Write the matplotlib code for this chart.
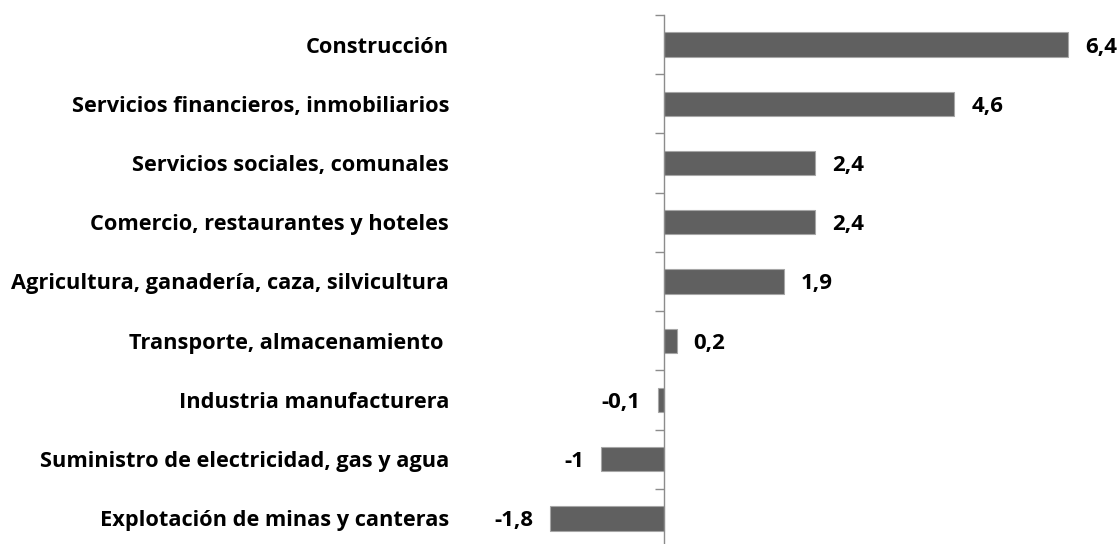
import matplotlib
matplotlib.use("Agg")
import matplotlib.pyplot as plt
import numpy as np

# sectors, top to bottom
sectors = [
    "Construcción",
    "Servicios financieros, inmobiliarios",
    "Servicios sociales, comunales",
    "Comercio, restaurantes y hoteles",
    "Agricultura, ganadería, caza, silvicultura",
    "Transporte, almacenamiento ",
    "Industria manufacturera",
    "Suministro de electricidad, gas y agua",
    "Explotación de minas y canteras",
]
growth = [6.4, 4.6, 2.4, 2.4, 1.9, 0.2, -0.1, -1.0, -1.8]
value_labels = ["6,4", "4,6", "2,4", "2,4", "1,9", "0,2", "-0,1", "-1", "-1,8"]

plt.rcParams["font.family"] = ["Open Sans", "DejaVu Sans"]
FS = 15.7
FS_VAL = 16
W, H = 1120, 544

fig = plt.figure(figsize=(W / 100, H / 100), dpi=100)
# axes placed in pixels: zero line at x=664, 63.1 px per unit, rows from y=15 to y=548
left_px, zero_px, scale = 470, 664, 63.1
ax = fig.add_axes([left_px / W, (H - 548) / H, 1 - left_px / W, (548 - 15) / H])
ax.set_xlim(-(zero_px - left_px) / scale, (W - zero_px) / scale)

y = np.arange(len(sectors))
ax.barh(y, growth, height=0.41, color="#606060", edgecolor="#a6a6a6", linewidth=0.8)
ax.set_ylim(len(sectors) - 0.5, -0.5)

for yi, v, lab in zip(y, growth, value_labels):
    off = 0.27 if v >= 0 else -0.27
    ax.text(v + off, yi, lab, ha="left" if v >= 0 else "right", va="center_baseline",
            fontsize=FS_VAL, fontweight="bold", color="#000000")

for s in ["top", "right", "bottom"]:
    ax.spines[s].set_visible(False)
ax.spines["left"].set_position(("data", 0))
ax.spines["left"].set_color("#8c8c8c")
ax.spines["left"].set_linewidth(1.0)
ax.set_xticks([])

# category labels on major ticks (no marks), tick marks at row boundaries
ax.set_yticks(y)
ax.set_yticklabels(sectors, fontsize=FS, fontweight="bold")
ax.tick_params(axis="y", which="major", length=0, pad=(zero_px - 449) * 0.72)
ax.set_yticks(np.arange(len(sectors) + 1) - 0.5, minor=True)
ax.tick_params(axis="y", which="minor", length=6.5, width=1.0, color="#8c8c8c")

fig.savefig("out.png", dpi=100)
